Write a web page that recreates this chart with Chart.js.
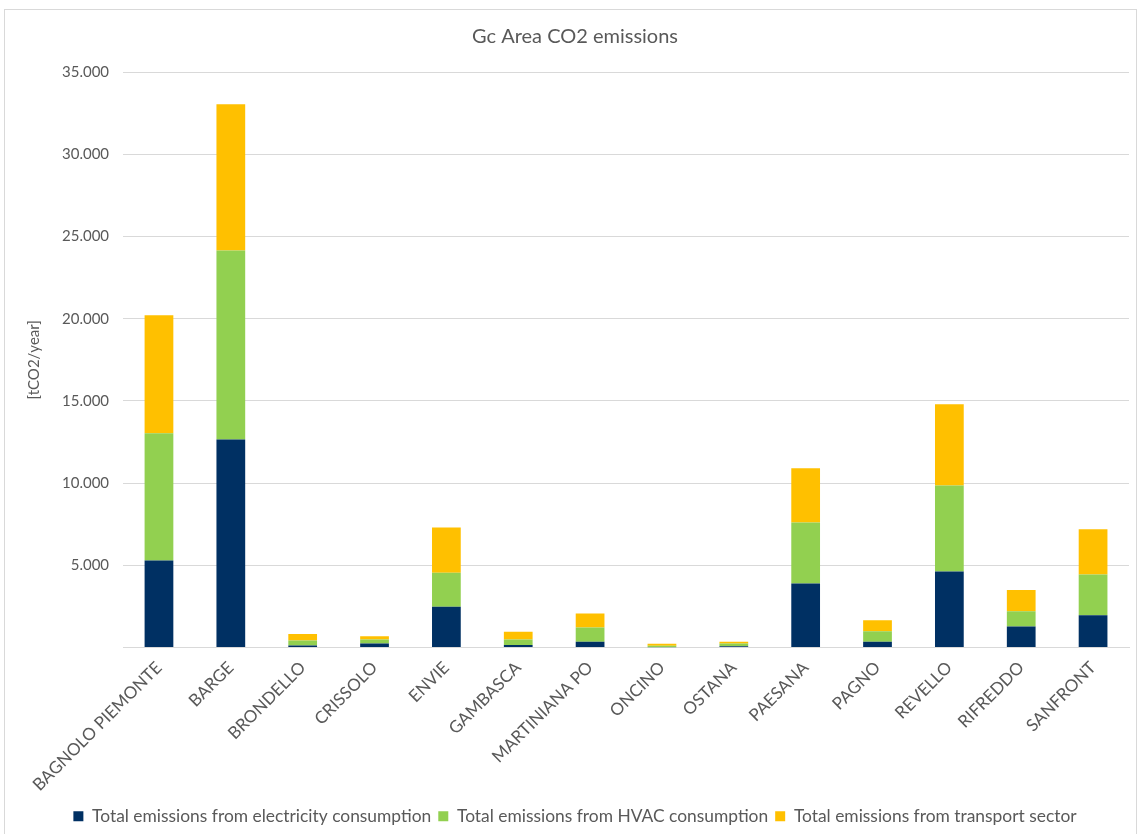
<!DOCTYPE html>
<html>
<head>
<meta charset="utf-8">
<script src="https://cdn.jsdelivr.net/npm/chart.js@4.4.1/dist/chart.umd.min.js"></script>
<style>
  html, body { margin: 0; padding: 0; background: #ffffff; }
  #frame {
    position: absolute;
    left: 4px; top: 9px;
    width: 1133px; height: 830px;
    border: 1px solid #d9d9d9;
    box-sizing: border-box;
  }
  #co2Chart { display: block; }
</style>
</head>
<body>
<div id="frame">
  <canvas id="co2Chart" width="1131" height="828"></canvas>
</div>
<script>
/*
  Gc Area CO2 emissions, stacked by source.
  Values in tCO2/year.
*/

const municipalities = [
  "BAGNOLO PIEMONTE", "BARGE", "BRONDELLO", "CRISSOLO", "ENVIE", "GAMBASCA",
  "MARTINIANA PO", "ONCINO", "OSTANA", "PAESANA", "PAGNO", "REVELLO",
  "RIFREDDO", "SANFRONT"
];

const electricity = [5300, 12650, 130, 250, 2480, 160, 350, 20, 80, 3900, 350, 4630, 1280, 1970];
const hvac        = [7730, 11500, 300, 240, 2070, 340, 870, 90, 170, 3710, 650, 5230, 930, 2480];
const transport   = [7180, 8890, 400, 200, 2760, 470, 850, 120, 110, 3290, 670, 4930, 1300, 2740];

const seriesNames = [
  "Total emissions from electricity consumption",
  "Total emissions from HVAC consumption",
  "Total emissions from transport sector"
];

const yTicks = [0, 5000, 10000, 15000, 20000, 25000, 30000, 35000];

const textGrey = "#595959";
const fontFamily = "Lato, 'Open Sans', sans-serif";

// 35000 -> "35.000", and 0 is left blank like the original
function fmtThousands(v) {
  if (v === 0) return "";
  return String(v).replace(/\B(?=(\d{3})+(?!\d))/g, ".");
}

function styleBar(dataset, color) {
  dataset.backgroundColor = color;
  dataset.borderWidth = 0;
  dataset.categoryPercentage = 1.0;
  dataset.barPercentage = 0.40;
  return dataset;
}

const ctx = document.getElementById("co2Chart");

new Chart(ctx, {
  type: "bar",
  data: {
    labels: municipalities,
    datasets: [
      styleBar({ label: seriesNames[0], data: electricity }, "#003063"),
      styleBar({ label: seriesNames[1], data: hvac }, "#92d050"),
      styleBar({ label: seriesNames[2], data: transport }, "#ffc000")
    ]
  },
  options: {
    responsive: false,
    animation: false,
    layout: {
      padding: { left: 16, right: 7, top: 4, bottom: 3 }
    },
    plugins: {
      title: {
        display: true,
        text: "Gc Area CO2 emissions",
        color: textGrey,
        font: { family: fontFamily, size: 20, weight: "normal" },
        padding: { top: 11, bottom: 23 }
      },
      legend: {
        position: "bottom",
        labels: {
          color: textGrey,
          boxWidth: 10,
          boxHeight: 10,
          padding: 7,
          font: { family: fontFamily, size: 17.4 }
        }
      },
      tooltip: { enabled: false }
    },
    scales: {
      x: {
        stacked: true,
        grid: { display: false },
        border: { color: "#d9d9d9" },
        ticks: {
          color: textGrey,
          minRotation: 45,
          maxRotation: 45,
          padding: 2,
          font: { family: fontFamily, size: 17 }
        },
        // keep the label band the same height as in the original
        afterFit: function(axis) {
          axis.height = 153;
        }
      },
      y: {
        stacked: true,
        min: 0,
        max: 35000,
        afterBuildTicks: function(axis) {
          axis.ticks = yTicks.map(v => ({ value: v }));
        },
        grid: { color: "#d9d9d9", drawTicks: false },
        border: { display: false },
        title: {
          display: true,
          text: "[tCO2/year]",
          color: textGrey,
          font: { family: fontFamily, size: 15 },
          padding: { bottom: 5 }
        },
        ticks: {
          color: textGrey,
          padding: 14,
          font: { family: fontFamily, size: 15 },
          callback: function(value) {
            return fmtThousands(value);
          }
        }
      }
    }
  }
});
</script>
</body>
</html>
